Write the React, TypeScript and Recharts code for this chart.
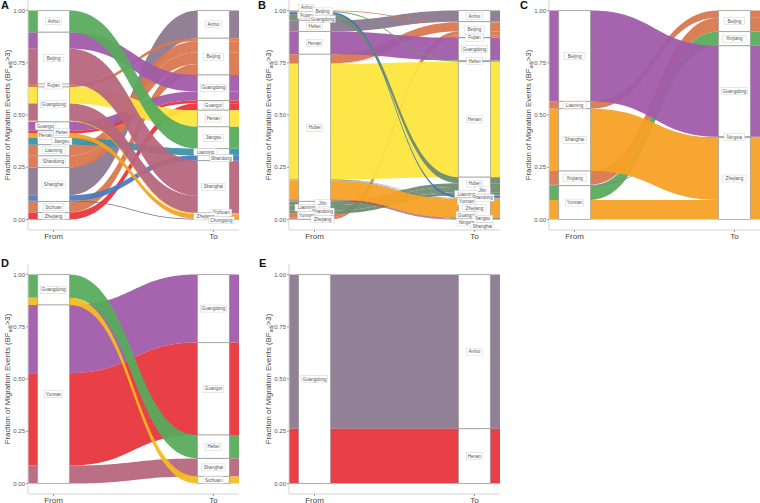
import React from "react";
import {
  ComposedChart,
  Area,
  XAxis,
  YAxis,
  ReferenceArea,
  ReferenceDot,
  ReferenceLine,
} from "recharts";

type Flow = [string, string, number];

// ---- panel A ----
const fromA = ["Anhui", "Beijing", "Fujian", "Guangdong", "Guangxi", "Hebei", "Henan", "Jiangsu", "Liaoning", "Shandong", "Shanghai", "Sichuan", "Zhejiang"];
const toA = ["Anhui", "Beijing", "Guangdong", "Guangxi", "Henan", "Jiangsu", "Liaoning", "Shandong", "Shanghai", "Sichuan", "Zhejiang", "Chongqing"];
const flowsA: Flow[] = [
  ["Anhui", "Jiangsu", 0.105],
  ["Beijing", "Guangdong", 0.08],
  ["Beijing", "Shanghai", 0.17],
  ["Fujian", "Beijing", 0.014],
  ["Guangdong", "Henan", 0.08],
  ["Guangdong", "Shanghai", 0.083],
  ["Guangdong", "Sichuan", 0.005],
  ["Guangxi", "Guangdong", 0.043],
  ["Hebei", "Guangxi", 0.013],
  ["Henan", "Zhejiang", 0.022],
  ["Jiangsu", "Liaoning", 0.032],
  ["Liaoning", "Beijing", 0.054],
  ["Shandong", "Beijing", 0.056],
  ["Shanghai", "Anhui", 0.134],
  ["Shanghai", "Shandong", 0.026],
  ["Shanghai", "Chongqing", 0.004],
  ["Sichuan", "Beijing", 0.053],
  ["Zhejiang", "Guangxi", 0.034],
];

// ---- panel B ----
const fromB = ["Anhui", "Beijing", "Fujian", "Guangdong", "Hebei", "Henan", "Hubei", "Jilin", "Liaoning", "Shandong", "Yunnan", "Zhejiang"];
const toB = ["Anhui", "Beijing", "Fujian", "Guangdong", "Hebei", "Henan", "Hubei", "Jilin", "Liaoning", "Shandong", "Yunnan", "Zhejiang", "Guangxi", "Jiangsu", "Ningxia", "Shanghai"];
const flowsB: Flow[] = [
  ["Anhui", "Beijing", 0.004],
  ["Beijing", "Hebei", 0.005],
  ["Fujian", "Liaoning", 0.009],
  ["Guangdong", "Hubei", 0.029],
  ["Hebei", "Anhui", 0.053],
  ["Henan", "Guangdong", 0.108],
  ["Hubei", "Beijing", 0.043],
  ["Hubei", "Fujian", 0.002],
  ["Hubei", "Henan", 0.548],
  ["Hubei", "Jilin", 0.002],
  ["Hubei", "Shandong", 0.002],
  ["Hubei", "Yunnan", 0.002],
  ["Hubei", "Zhejiang", 0.09],
  ["Hubei", "Guangxi", 0.002],
  ["Hubei", "Jiangsu", 0.002],
  ["Hubei", "Ningxia", 0.002],
  ["Hubei", "Shanghai", 0.003],
  ["Jilin", "Hubei", 0.018],
  ["Liaoning", "Hubei", 0.024],
  ["Shandong", "Hubei", 0.016],
  ["Yunnan", "Beijing", 0.018],
  ["Zhejiang", "Beijing", 0.01],
];

// ---- panel C ----
const fromC = ["Beijing", "Liaoning", "Shanghai", "Xinjiang", "Yunnan"];
const toC = ["Beijing", "Xinjiang", "Guangdong", "Ningxia", "Zhejiang"];
const flowsC: Flow[] = [
  ["Beijing", "Guangdong", 0.435],
  ["Liaoning", "Beijing", 0.035],
  ["Shanghai", "Zhejiang", 0.298],
  ["Xinjiang", "Beijing", 0.066],
  ["Xinjiang", "Ningxia", 0.004],
  ["Yunnan", "Xinjiang", 0.068],
  ["Yunnan", "Zhejiang", 0.094],
];

// ---- panel D ----
const fromD = ["Guangdong", "Yunnan"];
const toD = ["Guangdong", "Guangxi", "Hebei", "Shanghai", "Sichuan"];
const flowsD: Flow[] = [
  ["Guangdong", "Hebei", 0.112],
  ["Guangdong", "Sichuan", 0.034],
  ["Yunnan", "Guangdong", 0.326],
  ["Yunnan", "Guangxi", 0.442],
  ["Yunnan", "Shanghai", 0.086],
];

// ---- panel E ----
const fromE = ["Guangdong"];
const toE = ["Anhui", "Henan"];
const flowsE: Flow[] = [
  ["Guangdong", "Anhui", 0.738],
  ["Guangdong", "Henan", 0.262],
];

const yTicks = [0, 0.25, 0.5, 0.75, 1];
const xTickNames = ["From", "To"];

const PURPLEGREY = "#8b7891";
const BROWN = "#d9774f";
const PURPLE = "#a05aa9";
const RED = "#e8333b";
const YELLOW = "#fde43c";
const GREEN = "#58aa5c";
const TEAL = "#3a92a6";
const BLUE = "#4a7bbf";
const MAUVE = "#b7667c";
const GOLD = "#f5bc1f";
const ORANGE = "#f7a124";

const paletteA: Record<string, string> = {
  Anhui: PURPLEGREY, Beijing: BROWN, Guangdong: PURPLE, Guangxi: RED, Henan: YELLOW, Jiangsu: GREEN,
  Liaoning: TEAL, Shandong: BLUE, Shanghai: MAUVE, Sichuan: GOLD, Zhejiang: ORANGE, Chongqing: "#6f6478",
};
const paletteB: Record<string, string> = {
  Anhui: PURPLEGREY, Beijing: BROWN, Fujian: "#c2544a", Guangdong: PURPLE, Hebei: GREEN, Henan: YELLOW,
  Hubei: "#6d8c6f", Jilin: "#9a9a9a", Liaoning: "#3f6fc4", Shandong: TEAL, Yunnan: "#c98a55", Zhejiang: ORANGE,
  Guangxi: RED, Jiangsu: GREEN, Ningxia: "#5a5a5a", Shanghai: MAUVE,
};
const paletteC: Record<string, string> = {
  Beijing: BROWN, Xinjiang: GREEN, Guangdong: PURPLE, Ningxia: "#8b7891", Zhejiang: ORANGE,
};
const paletteD: Record<string, string> = {
  Guangdong: PURPLE, Guangxi: RED, Hebei: GREEN, Shanghai: MAUVE, Sichuan: GOLD,
};
const paletteE: Record<string, string> = { Anhui: PURPLEGREY, Henan: RED };

const W = 245;
const H = 245;
const YW = 28;
const XDOM: [number, number] = [0.84, 2.16];
const YDOM: [number, number] = [-0.05, 1.05];
const HALF = 0.1;
const FONT = "'Liberation Sans', Arial, Helvetica, sans-serif";

interface Stratum { name: string; lo: number; hi: number }

function layout(fromNodes: string[], toNodes: string[], flows: Flow[]) {
  const total = flows.reduce((s, f) => s + f[2], 0);
  const pos = flows.map(() => ({ f0: 0, f1: 0, t0: 0, t1: 0 }));
  const fromStrata: Stratum[] = [];
  const toStrata: Stratum[] = [];
  let top = 1;
  for (const n of fromNodes) {
    const start = top;
    flows
      .map((_, i) => i)
      .filter((i) => flows[i][0] === n)
      .sort((a, b) => toNodes.indexOf(flows[a][1]) - toNodes.indexOf(flows[b][1]))
      .forEach((i) => {
        const v = flows[i][2] / total;
        pos[i].f1 = top;
        pos[i].f0 = top - v;
        top -= v;
      });
    fromStrata.push({ name: n, lo: top, hi: start });
  }
  top = 1;
  for (const n of toNodes) {
    const start = top;
    flows
      .map((_, i) => i)
      .filter((i) => flows[i][1] === n)
      .sort((a, b) => fromNodes.indexOf(flows[a][0]) - fromNodes.indexOf(flows[b][0]))
      .forEach((i) => {
        const v = flows[i][2] / total;
        pos[i].t1 = top;
        pos[i].t0 = top - v;
        top -= v;
      });
    toStrata.push({ name: n, lo: top, hi: start });
  }
  // later "To" strata are painted over earlier ones
  const order = flows
    .map((_, i) => i)
    .sort((a, b) => toNodes.indexOf(flows[a][1]) - toNodes.indexOf(flows[b][1]) || a - b);
  return { pos, fromStrata, toStrata, order };
}

// crude vertical repel for stratum labels (ggrepel-ish)
function placeLabels(strata: Stratum[]) {
  const ys = strata.map((s) => (s.lo + s.hi) / 2);
  const crowded = ys.map((y, i) =>
    (i > 0 && ys[i - 1] - y < 0.03) || (i < ys.length - 1 && y - ys[i + 1] < 0.03)
  );
  const dx = ys.map((_, i) => (crowded[i] ? (i % 2 === 0 ? -0.05 : 0.05) : 0));
  const out = [...ys];
  for (let it = 0; it < 200; it++) {
    for (let i = 0; i < out.length - 1; i++) {
      const gap = crowded[i] && crowded[i + 1] ? 0.018 : 0.032;
      const d = out[i] - out[i + 1];
      if (d < gap) {
        const m = (gap - d) / 2;
        out[i] += m;
        out[i + 1] -= m;
      }
    }
    for (let i = 0; i < out.length; i++) out[i] = Math.max(-0.035, Math.min(1.035, out[i]));
  }
  return strata.map((s, i) => ({ name: s.name, y: ys[i], ly: out[i], dx: dx[i] }));
}

function LabelBox(props: any) {
  const { cx, cy, text } = props;
  if (cx == null || cy == null) return null;
  const fs = 4.6;
  const w = text.length * fs * 0.55 + 3;
  const h = fs + 2.4;
  return (
    <g>
      <rect x={cx - w / 2} y={cy - h / 2} width={w} height={h} fill="#fff" stroke="#c4c4c4" strokeWidth={0.4} />
      <text x={cx} y={cy + fs * 0.35} textAnchor="middle" fontSize={fs} fill="#555" fontFamily={FONT}>
        {text}
      </text>
    </g>
  );
}

function YTitle(props: any) {
  const vb = props.viewBox || { x: 0, y: 0, width: YW, height: 230 };
  const cx = vb.x + 10;
  const cy = vb.y + vb.height / 2;
  return (
    <text transform={`translate(${cx},${cy}) rotate(-90)`} textAnchor="middle" fontSize={7.8} fill="#444" fontFamily={FONT}>
      Fraction of Migration Events (BF
      <tspan fontSize={5.4} dy={1.7}>adj</tspan>
      <tspan dy={-1.7}>&gt;3)</tspan>
    </text>
  );
}

interface PanelProps {
  fromNodes: string[];
  toNodes: string[];
  flows: Flow[];
  palette: Record<string, string>;
  left: number;
  top: number;
}

function Panel({ fromNodes, toNodes, flows, palette, left, top }: PanelProps) {
  const { pos, fromStrata, toStrata, order } = layout(fromNodes, toNodes, flows);
  const xs = [XDOM[0], 1 + HALF, 2 - HALF, XDOM[1]];
  const rows = xs.map((x, k) => {
    const r: Record<string, any> = { x };
    pos.forEach((p, i) => {
      r["f" + i] = k < 2 ? [p.f0, p.f1] : [p.t0, p.t1];
    });
    return r;
  });
  const labels = [
    ...placeLabels(fromStrata).map((l) => ({ ...l, x: 1 })),
    ...placeLabels(toStrata).map((l) => ({ ...l, x: 2 })),
  ];
  return (
    <div style={{ position: "absolute", left, top, width: W, height: H }}>
      <ComposedChart width={W} height={H} data={rows} margin={{ top: 0, right: 6, bottom: 0, left: 0 }}>
        <XAxis
          dataKey="x"
          type="number"
          domain={XDOM}
          allowDataOverflow
          ticks={[1, 2]}
          tickFormatter={(v: number) => xTickNames[v - 1]}
          height={15}
          tickSize={2}
          tickMargin={1}
          tick={{ fontSize: 8, fill: "#444", fontFamily: FONT }}
          axisLine={{ stroke: "#d4d4d4" }}
          tickLine={{ stroke: "#999" }}
        />
        <YAxis
          type="number"
          domain={YDOM}
          allowDataOverflow
          ticks={yTicks}
          tickFormatter={(v: number) => v.toFixed(2)}
          width={YW}
          tickSize={2}
          tickMargin={1}
          tick={{ fontSize: 6, fill: "#555", fontFamily: FONT }}
          axisLine={{ stroke: "#d4d4d4" }}
          tickLine={{ stroke: "#999" }}
          label={<YTitle />}
        />
        {order.map((i) => (
          <Area
            key={"f" + i}
            dataKey={"f" + i}
            type="bumpX"
            stroke="none"
            fill={palette[flows[i][1]]}
            fillOpacity={0.94}
            isAnimationActive={false}
            dot={false}
            activeDot={false}
          />
        ))}
        {fromStrata.map((s) => (
          <ReferenceArea
            key={"fs" + s.name}
            x1={1 - HALF}
            x2={1 + HALF}
            y1={s.lo}
            y2={s.hi}
            fill="#fff"
            fillOpacity={1}
            stroke="#8c8c8c"
            strokeWidth={0.6}
            ifOverflow="visible"
          />
        ))}
        {toStrata.map((s) => (
          <ReferenceArea
            key={"ts" + s.name}
            x1={2 - HALF}
            x2={2 + HALF}
            y1={s.lo}
            y2={s.hi}
            fill="#fff"
            fillOpacity={1}
            stroke="#8c8c8c"
            strokeWidth={0.6}
            ifOverflow="visible"
          />
        ))}
        {labels
          .filter((l) => Math.abs(l.ly - l.y) > 0.012 || l.dx !== 0)
          .map((l) => (
            <ReferenceLine
              key={"ll" + l.x + l.name}
              segment={[{ x: l.x, y: l.y }, { x: l.x + l.dx, y: l.ly }]}
              stroke="#999"
              strokeWidth={0.4}
              ifOverflow="visible"
            />
          ))}
        {labels.map((l) => (
          <ReferenceDot
            key={"lb" + l.x + l.name}
            x={l.x + l.dx}
            y={l.ly}
            r={0}
            ifOverflow="visible"
            shape={(p: any) => <LabelBox cx={p.cx} cy={p.cy} text={l.name} />}
          />
        ))}
      </ComposedChart>
    </div>
  );
}

const titleStyle: React.CSSProperties = {
  position: "absolute",
  fontFamily: FONT,
  fontWeight: 700,
  fontSize: 11,
  color: "#111",
  lineHeight: "11px",
};

export default function App() {
  return (
    <div style={{ position: "absolute", left: 0, top: 0, width: 760, height: 503, overflow: "hidden", background: "#fff" }}>
      <Panel fromNodes={fromA} toNodes={toA} flows={flowsA} palette={paletteA} left={0} top={0} />
      <Panel fromNodes={fromB} toNodes={toB} flows={flowsB} palette={paletteB} left={261} top={0} />
      <Panel fromNodes={fromC} toNodes={toC} flows={flowsC} palette={paletteC} left={521} top={0} />
      <Panel fromNodes={fromD} toNodes={toD} flows={flowsD} palette={paletteD} left={0} top={263.5} />
      <Panel fromNodes={fromE} toNodes={toE} flows={flowsE} palette={paletteE} left={261} top={263.5} />
      <div style={{ ...titleStyle, left: 1, top: 0 }}>A</div>
      <div style={{ ...titleStyle, left: 258, top: 0 }}>B</div>
      <div style={{ ...titleStyle, left: 520, top: 0 }}>C</div>
      <div style={{ ...titleStyle, left: 1, top: 258 }}>D</div>
      <div style={{ ...titleStyle, left: 259, top: 258 }}>E</div>
    </div>
  );
}
